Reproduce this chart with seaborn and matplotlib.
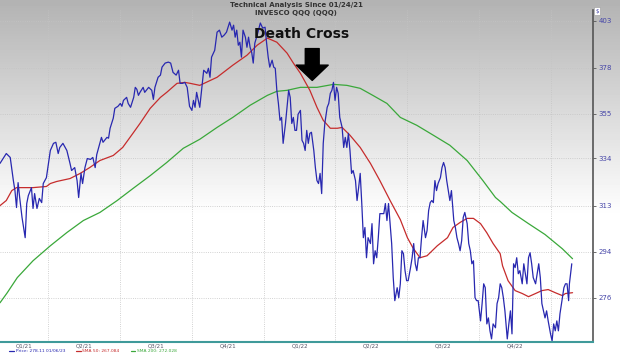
import numpy as np
import pandas as pd
import matplotlib
matplotlib.use("Agg")
import matplotlib.pyplot as plt
from matplotlib.ticker import NullLocator
import seaborn as sns

# days counted from 01/24/21
start = pd.Timestamp("2021-01-24")

price_days = [6, 14, 19, 23, 25, 27, 29, 31, 34, 36, 38, 40, 42, 46, 48, 50, 53, 56, 59, 61, 65, 70, 74, 77, 80,
              82, 86, 91, 95, 97, 101, 104, 106, 109, 111, 114, 117, 121, 124, 127, 129, 133,
              135, 137, 142, 144, 146, 150, 152, 156, 159, 161, 163, 167, 169, 172, 176, 178, 180, 182, 184, 188,
              190, 195, 199, 201, 203, 207, 210, 212, 216, 220, 223, 226, 230, 233, 235, 238, 241, 244, 247, 250,
              252, 254, 256, 260,
              265, 269, 271, 273, 275, 279, 282, 285, 288, 291, 294, 298, 301, 303, 305, 307, 309, 311, 313, 315,
              318, 320, 322, 324, 326, 328, 330, 333, 337, 340, 343, 345, 347, 349, 352, 354, 356, 358, 360, 362,
              364, 366, 369, 371, 373, 375, 377, 379, 381, 383, 385, 388,
              390, 392, 394, 396, 398, 400, 402, 405, 407, 409, 411, 413, 415, 417, 419, 422, 424, 426, 428, 430,
              432, 434, 436, 438, 441, 443, 445, 447, 449, 451, 453, 455, 458, 460, 462, 464, 466, 468, 470, 472,
              474, 477, 479, 481, 483, 485, 487, 489, 494, 496, 498, 500, 502, 504, 506, 508, 511, 513,
              515, 517, 519, 521, 523, 525, 528, 530, 532, 534, 536, 538, 540, 542, 544, 547, 549, 551, 553, 555,
              557, 559, 561, 563, 566, 568, 570, 572, 574, 576, 578, 580, 583, 585, 587, 589, 591, 593, 595, 597,
              600, 602, 604, 606, 608, 610, 612, 614, 617, 619, 621, 623, 625, 627, 629, 631, 633, 636, 638, 640, 642,
              644, 646, 648, 651, 653, 655, 657, 659, 661, 663, 665, 667, 670, 672, 674, 676, 678, 680, 682, 684,
              687, 689, 691, 693, 695, 697, 699, 701, 703, 706, 708, 710, 712, 714, 716, 718, 720, 723, 725, 727,
              729, 730, 733]
price = [331.7, 336.2, 334.4, 324.0, 319.6, 312.3, 323.1, 316.6, 308.1, 303.9, 299.7, 314.0, 317.4, 320.9, 311.9,
         318.3, 311.9, 316.2, 314.4, 322.7, 325.3, 337.6, 340.9, 341.4, 336.2,
         339.0, 340.9, 337.6, 331.7, 328.5, 329.8, 324.0, 316.6, 327.2, 322.7, 329.8, 333.9, 333.5, 334.4, 329.8,
         335.7, 340.9,
         343.7, 341.4, 343.7, 343.3, 348.0, 352.8, 357.6, 358.6, 360.0, 358.6, 361.5, 363.0, 360.0, 358.1, 363.0,
         368.0, 367.0, 364.0, 365.5, 368.0, 365.5, 368.0, 366.5, 362.0, 368.0, 373.1, 374.2, 378.3, 380.4, 380.9,
         380.4, 375.6, 374.2, 376.7, 370.0, 370.0, 370.5, 368.0, 358.6, 356.6, 361.5, 358.1, 365.5, 358.1,
         376.7, 375.1, 377.7, 373.1, 383.5, 387.1, 396.8, 397.9, 394.1, 395.2, 396.8, 402.3, 397.9, 400.6, 394.1,
         397.9, 389.8, 391.4, 383.5, 397.9, 394.1, 388.7, 394.1, 388.7, 386.1, 380.4, 390.9, 395.2, 401.8, 399.0,
         399.5, 390.9, 383.5, 378.3, 381.9, 378.3, 377.7, 366.5, 360.0, 351.8, 353.2, 340.9, 350.3, 358.1, 366.5,
         363.0, 350.3, 353.2, 347.0, 347.0, 354.7, 356.6,
         342.3, 340.9, 337.6, 347.0, 340.9, 345.6, 346.1, 337.6, 329.8, 324.0, 322.7, 327.2, 318.3, 340.9, 350.3,
         358.1, 360.0, 365.0, 366.5, 370.5, 361.5, 368.0, 365.0, 353.2, 348.4, 339.0, 343.7, 339.0, 345.6, 337.6,
         327.2, 328.5, 324.0, 315.3, 320.9, 327.2, 314.0, 299.7, 303.9, 291.6, 299.7, 297.3, 305.5, 289.2, 294.4,
         291.6, 299.7, 309.7, 309.7, 314.0, 306.8, 314.0, 305.5, 297.3, 283.8, 275.0, 279.9, 276.1,
         281.4, 294.4, 293.2, 286.5, 282.6, 282.6, 287.7, 291.6, 297.3, 289.2, 286.5, 291.6, 291.6, 299.7, 306.8,
         299.7, 302.6, 311.0, 314.4, 315.3, 314.4, 324.0, 319.6, 322.7, 325.3, 329.8, 332.1, 329.8, 324.0, 319.6,
         315.3, 319.6, 306.8, 303.9, 299.7, 297.3, 294.4, 298.5, 308.1, 310.2, 305.5, 297.3, 294.4, 289.2, 290.4,
         276.1, 275.0, 275.0, 267.5, 273.9, 281.4, 279.9, 266.4, 268.6, 263.9, 261.0, 266.4, 265.0, 273.9, 276.1,
         281.4,
         279.9, 276.1, 271.2, 261.0, 266.4, 271.2, 262.8, 289.2, 287.7, 291.6, 285.3, 286.5, 281.4, 289.2, 285.3,
         281.4, 291.6, 293.6, 289.2, 283.8, 281.4, 285.3, 289.2, 283.8, 273.9, 271.2, 268.6, 271.2, 267.5, 262.8,
         260.3, 266.4, 263.9, 267.5, 263.9, 270.1, 273.9, 279.9, 281.4, 281.4, 275.0, 281.4, 289.2]

sma50_days = [6, 14, 21, 27, 48, 65, 70, 78, 95, 108, 120, 133, 150, 162, 175, 184, 197, 210, 218, 231,
              241, 248, 260, 282, 302, 320, 333, 346, 358, 371, 379, 388, 400, 409, 417, 426, 435, 441, 451, 464,
              477, 489, 502, 515, 524, 531, 540, 549, 562, 575, 582, 591, 600, 608, 617, 625, 633, 642, 645, 652,
              661, 670, 678, 687, 695, 703, 712, 721, 725, 734]
sma50 = [313.1, 315.3, 319.6, 320.9, 320.9, 321.4, 322.7, 323.6, 324.9, 327.2, 329.8, 333.0, 335.3, 339.0, 345.6,
         350.3, 357.6, 363.0, 365.5, 370.0, 370.5, 370.0, 369.0, 373.1, 379.3, 384.5, 389.8, 393.6, 391.4, 385.6,
         380.4, 375.1, 366.5, 358.1, 351.8, 348.0, 348.0, 348.4, 344.7, 339.0, 331.7, 324.0, 315.3, 307.2, 299.7,
         295.6, 291.6, 292.4, 296.4, 299.7, 303.9, 306.0, 307.7, 307.7, 305.5, 301.7, 297.3, 293.2, 288.4, 282.6,
         278.8, 277.7, 276.5, 277.7, 278.8, 279.2, 278.0, 276.9, 277.7, 278.0]

sma200_days = [6, 15, 28, 48, 70, 91, 112, 133, 155, 175, 197, 218, 239, 260, 282, 302, 324, 346, 358, 371,
               388, 409, 430, 447, 464, 480, 498, 515, 536, 557, 578, 600, 620, 636, 642, 657, 678, 699, 721, 734]
sma200 = [274.2, 277.9, 283.8, 290.4, 296.4, 301.8, 306.8, 310.2, 315.3, 320.5, 326.2, 332.1, 338.6, 342.8, 348.4,
          353.2, 359.1, 364.0, 366.0, 366.5, 368.0, 368.0, 369.5, 369.0, 367.5, 364.0, 360.0, 353.2, 349.4, 344.7,
          340.0, 333.0, 324.0, 316.6, 314.9, 310.2, 305.5, 301.0, 295.2, 291.2]

y_ticks = [276, 294, 313, 334, 355, 378, 403]
quarter_labels = ["Q1/21", "Q2/21", "Q3/21", "Q4/21", "Q1/22", "Q2/22", "Q3/22", "Q4/22"]
legend_labels = ["Price: 278.11 01/06/23", "SMA 50: 267.084", "SMA 200: 272.028"]


def to_dates(days):
    return start + pd.to_timedelta(np.asarray(days), unit="D")


price_df = pd.DataFrame({"date": to_dates(price_days), "value": price})
sma50_df = pd.DataFrame({"date": to_dates(sma50_days), "value": sma50})
sma200_df = pd.DataFrame({"date": to_dates(sma200_days), "value": sma200})

sns.set_style("white")
fig = plt.figure(figsize=(6.2, 3.53), dpi=100)

# grey-to-white gradient behind everything
bg = fig.add_axes([0, 0, 1, 1])
rows = np.arange(353)
shade = np.clip(0.70 + 0.30 * rows / 215, 0, 1)
bg.imshow(np.tile(shade[:, None], (1, 10)), cmap="gray", vmin=0, vmax=1,
          aspect="auto", extent=[0, 1, 0, 1])
bg.axis("off")

ax = fig.add_axes([0, 1 - 342 / 353, 593 / 620, 332 / 353])
ax.patch.set_alpha(0)

sns.lineplot(data=sma200_df, x="date", y="value", ax=ax, color="#3aa83a", linewidth=0.9)
sns.lineplot(data=sma50_df, x="date", y="value", ax=ax, color="#c62c2c", linewidth=0.9)
sns.lineplot(data=price_df, x="date", y="value", ax=ax, color="#2828b0", linewidth=0.9)

ax.set_yscale("log")
ax.set_ylim(259.9, 409)
ax.set_yticks(y_ticks)
ax.set_yticklabels([str(t) for t in y_ticks])
ax.yaxis.set_minor_locator(NullLocator())
ax.yaxis.tick_right()
ax.tick_params(axis="y", which="major", direction="out", length=2, width=0.6, pad=2,
               labelsize=5, labelcolor="#4646a8", color="#555555")

xmin, xmax = to_dates([6])[0], to_dates([760])[0]
ax.set_xlim(xmin, xmax)
qs = pd.date_range("2021-01-01", periods=9, freq="QS")
mids = [max(qs[i], xmin) + (qs[i + 1] - max(qs[i], xmin)) / 2 for i in range(8)]
ax.set_xticks(qs[1:])
ax.set_xticks(mids, minor=True)
ax.set_xticklabels(quarter_labels, minor=True)
ax.tick_params(axis="x", which="major", length=0, labelbottom=False)
ax.tick_params(axis="x", which="minor", length=0, pad=1, labelsize=4, labelcolor="#555566")

ax.grid(True, which="major", color="#c4c4c4", linestyle=":", linewidth=0.6)
ax.set_xlabel("")
ax.set_ylabel("")
for side in ["top", "left"]:
    ax.spines[side].set_visible(False)
ax.spines["right"].set_color("#555555")
ax.spines["right"].set_linewidth(1.2)
ax.spines["bottom"].set_color("#3f9a9a")
ax.spines["bottom"].set_linewidth(1.5)

# titles
fig.text(296 / 620, 1 - 5 / 353, "Technical Analysis Since 01/24/21", ha="center", va="center",
         fontsize=5, fontweight="bold", color="#333333")
fig.text(296 / 620, 1 - 13 / 353, "INVESCO QQQ (QQQ)", ha="center", va="center",
         fontsize=5, fontweight="bold", color="#333333")

# death cross callout
fig.text(302 / 620, 1 - 34 / 353, "Death Cross", ha="center", va="center",
         fontsize=10, fontweight="bold", color="#111111")
cross_day = to_dates([403])[0]
ax.annotate("", xy=(cross_day, 371.5), xytext=(cross_day, 388),
            arrowprops=dict(facecolor="black", edgecolor="black", width=10,
                            headwidth=23, headlength=11, shrink=0))

fig.text(597 / 620, 1 - 11 / 353, "$", ha="center", va="center", fontsize=4, color="#4646a8",
         bbox=dict(boxstyle="square,pad=0.2", facecolor="white", edgecolor="#999999", linewidth=0.4))

# legend under the axis
handles = ax.lines[:3]
fig.legend([handles[2], handles[1], handles[0]], legend_labels, loc="center left",
           bbox_to_anchor=(0.015, 1 - 351 / 353), ncol=3, frameon=False, fontsize=3.2,
           handlelength=1.0, handletextpad=0.4, columnspacing=2.5, borderpad=0, borderaxespad=0)
leg_colors = ["#2828b0", "#c62c2c", "#3aa83a"]
for txt, c in zip(fig.legends[0].get_texts(), leg_colors):
    txt.set_color(c)

fig.savefig("out.png", dpi=100)
